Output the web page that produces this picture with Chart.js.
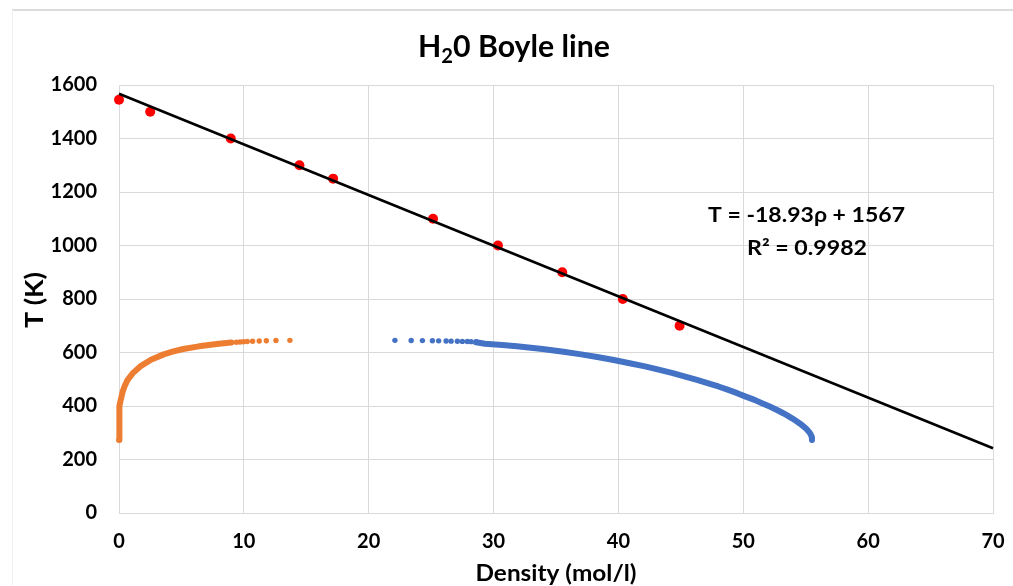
<!DOCTYPE html>
<html>
<head>
<meta charset="utf-8">
<script src="https://cdn.jsdelivr.net/npm/chart.js@4.4.1/dist/chart.umd.min.js"></script>
<style>
  html, body { margin: 0; padding: 0; background: #ffffff; }
  #wrap { width: 1013px; height: 586px; }
</style>
</head>
<body>
<div id="wrap"><canvas id="c" width="1013" height="586"></canvas></div>
<script>
// ---------------- DATA ----------------
const titleParts = ['H', '2', '0 Boyle line'];
const xAxisTitle = 'Density (mol/l)';
const yAxisTitle = 'T (K)';
const equationLines = ['T = -18.93\u03c1 + 1567', 'R\u00b2 = 0.9982'];

const xTicks = [0, 10, 20, 30, 40, 50, 60, 70];
const yTicks = [0, 200, 400, 600, 800, 1000, 1200, 1400, 1600];

// Boyle points (red)
const boyleRho = [0, 2.5, 8.95, 14.45, 17.15, 25.15, 30.35, 35.5, 40.35, 44.9];
const boyleT   = [1545, 1500, 1400, 1300, 1250, 1100, 1000, 900, 800, 700];

// Linear trendline
const trendSlope = -18.93;
const trendIntercept = 1567;
const trendRange = [0, 70];

// Saturated vapour (orange) - dense part
const vapRho = [0.0003, 0.0014, 0.0145, 0.077, 0.14, 0.29, 0.44, 0.69, 1.11, 1.70, 2.56, 3.58, 4.29, 5.14, 6.4, 7.99, 9.0];
const vapT   = [273, 300, 350, 400, 423, 453, 473, 498, 523, 548, 573, 593, 603, 613, 623, 633, 637];
// Saturated vapour (orange) - sparse points near the critical point
const vapRhoTail = [9.4, 9.69, 9.96, 10.27, 10.7, 11.23, 11.8, 12.57, 13.69];
const vapTTail   = [638.5, 639, 640, 641, 642, 643, 644, 644.8, 645.5];

// Saturated liquid (blue) - sparse points near the critical point
const liqRhoTail = [22.1, 23.4, 24.3, 25.1, 25.6, 26.2, 26.6, 27.1, 27.5, 27.9, 28.2, 28.6];
const liqTTail   = [645.5, 645, 644.5, 644, 643.5, 643, 642.5, 642, 641.5, 641, 640.5, 640];
// Saturated liquid (blue) - dense part
const liqRho = [28.6, 29.31, 30.7, 31.86, 33.92, 35.6, 37.02, 38.3, 39.52, 40.9, 42.13, 43.3, 44.35, 45.35, 46.29, 47.2, 48.01, 48.8, 49.51, 50.2, 50.9, 51.5, 52.12, 52.7, 53.2, 53.58, 53.94, 54.27, 54.58, 54.84, 55.08, 55.27, 55.41, 55.49, 55.5];
const liqT   = [638, 633, 628, 623, 613, 603, 593, 583, 573, 560, 548, 535, 523, 510, 498, 485, 473, 460, 448, 435, 423, 410, 398, 385, 373, 363, 353, 343, 333, 323, 313, 303, 293, 283, 273];

// ---------------- BUILD ----------------
const zip = (xs, ys) => xs.map((x, i) => ({ x: x, y: ys[i] }));
const trendData = trendRange.map(x => ({ x: x, y: trendSlope * x + trendIntercept }));

const FONT = 'Lato, "Open Sans", "DejaVu Sans", sans-serif';
const ORANGE = '#ED7D31';
const BLUE = '#4472C4';
const RED = '#FF0000';
const GRID = '#D9D9D9';

function fitText(ctx, text, cx, cy, size, targetW) {
  ctx.font = 'bold ' + size + 'px ' + FONT;
  const w = ctx.measureText(text).width;
  const s = targetW / w;
  ctx.save();
  ctx.translate(cx, cy);
  ctx.scale(s, 1);
  ctx.textAlign = 'center';
  ctx.fillText(text, 0, 0);
  ctx.restore();
}

const decor = {
  id: 'decor',
  beforeDraw(chart) {
    const ctx = chart.ctx;
    ctx.save();
    ctx.fillStyle = '#ffffff';
    ctx.fillRect(0, 0, chart.width, chart.height);
    ctx.strokeStyle = '#DCDCDC';
    ctx.lineWidth = 2;
    ctx.beginPath(); ctx.moveTo(12, 10); ctx.lineTo(chart.width, 10); ctx.stroke();
    ctx.strokeStyle = '#F0F0F0';
    ctx.lineWidth = 1;
    ctx.beginPath(); ctx.moveTo(12.5, 10); ctx.lineTo(12.5, chart.height); ctx.stroke();
    ctx.restore();
  },
  afterDraw(chart) {
    const ctx = chart.ctx;
    ctx.save();
    ctx.fillStyle = '#000000';
    ctx.textBaseline = 'alphabetic';
    const big = 30, small = 20;
    ctx.font = 'bold ' + big + 'px ' + FONT;
    const w1 = ctx.measureText(titleParts[0]).width;
    const w3 = ctx.measureText(titleParts[2]).width;
    ctx.font = 'bold ' + small + 'px ' + FONT;
    const w2 = ctx.measureText(titleParts[1]).width;
    const total = w1 + w2 + w3;
    const targetW = 192;
    const s = targetW / total;
    const cx = 514;
    ctx.translate(cx - targetW / 2, 0);
    ctx.scale(s, 1);
    ctx.textAlign = 'left';
    ctx.font = 'bold ' + big + 'px ' + FONT;
    ctx.fillText(titleParts[0], 0, 56.5);
    ctx.font = 'bold ' + small + 'px ' + FONT;
    ctx.fillText(titleParts[1], w1, 63);
    ctx.font = 'bold ' + big + 'px ' + FONT;
    ctx.fillText(titleParts[2], w1 + w2, 56.5);
    ctx.restore();

    ctx.save();
    ctx.fillStyle = '#000000';
    ctx.textBaseline = 'alphabetic';
    fitText(ctx, equationLines[0], 806.5, 222, 20, 197);
    fitText(ctx, equationLines[1], 807, 255, 20, 120);
    ctx.textBaseline = 'middle';
    fitText(ctx, xAxisTitle, 556, 574, 22, 161);
    ctx.translate(35, 300);
    ctx.rotate(-Math.PI / 2);
    fitText(ctx, yAxisTitle, 0, 0, 24, 56);
    ctx.restore();
  }
};

new Chart(document.getElementById('c'), {
  type: 'scatter',
  data: {
    datasets: [
      {
        label: 'trend',
        data: trendData,
        showLine: true,
        borderColor: '#000000',
        borderWidth: 2.6,
        pointRadius: 0,
        clip: false,
        order: 0
      },
      {
        label: 'Boyle',
        data: zip(boyleRho, boyleT),
        backgroundColor: RED,
        borderWidth: 0,
        pointRadius: 5,
        clip: false,
        order: 1
      },
      {
        label: 'vapour',
        data: zip(vapRho, vapT),
        showLine: true,
        borderColor: ORANGE,
        borderWidth: 6,
        borderCapStyle: 'round',
        borderJoinStyle: 'round',
        pointRadius: 0,
        clip: false,
        order: 2
      },
      {
        label: 'vapour tail',
        data: zip(vapRhoTail, vapTTail),
        backgroundColor: ORANGE,
        borderWidth: 0,
        pointRadius: 2.7,
        clip: false,
        order: 2
      },
      {
        label: 'liquid',
        data: zip(liqRho, liqT),
        showLine: true,
        borderColor: BLUE,
        borderWidth: 6,
        borderCapStyle: 'round',
        borderJoinStyle: 'round',
        pointRadius: 0,
        clip: false,
        order: 2
      },
      {
        label: 'liquid tail',
        data: zip(liqRhoTail, liqTTail),
        backgroundColor: BLUE,
        borderWidth: 0,
        pointRadius: 2.7,
        clip: false,
        order: 2
      }
    ]
  },
  options: {
    responsive: false,
    animation: false,
    devicePixelRatio: 1,
    layout: { padding: { top: 85, right: 20, left: 0, bottom: 0 } },
    plugins: {
      legend: { display: false },
      tooltip: { enabled: false },
      title: { display: false }
    },
    scales: {
      x: {
        type: 'linear',
        min: xTicks[0],
        max: xTicks[xTicks.length - 1],
        afterBuildTicks(scale) { scale.ticks = xTicks.map(v => ({ value: v })); },
        afterFit(scale) {
          scale.height = 73;
          scale.paddingLeft = 0;
          scale.paddingRight = 0;
        },
        grid: { color: GRID, lineWidth: 1, drawTicks: false },
        border: { color: GRID, width: 1 },
        ticks: {
          padding: 17,
          color: '#000000',
          font: { family: FONT, size: 20, weight: 'bold' },
          maxRotation: 0,
          callback: (v) => String(v)
        }
      },
      y: {
        type: 'linear',
        min: yTicks[0],
        max: yTicks[yTicks.length - 1],
        afterBuildTicks(scale) { scale.ticks = yTicks.map(v => ({ value: v })); },
        afterFit(scale) {
          scale.width = 119;
          scale.paddingTop = 0;
          scale.paddingBottom = 0;
        },
        grid: { color: GRID, lineWidth: 1, drawTicks: false },
        border: { color: GRID, width: 1 },
        ticks: {
          padding: 22,
          color: '#000000',
          font: { family: FONT, size: 20, weight: 'bold' },
          callback: (v) => String(v)
        }
      }
    }
  },
  plugins: [decor]
});
</script>
</body>
</html>
